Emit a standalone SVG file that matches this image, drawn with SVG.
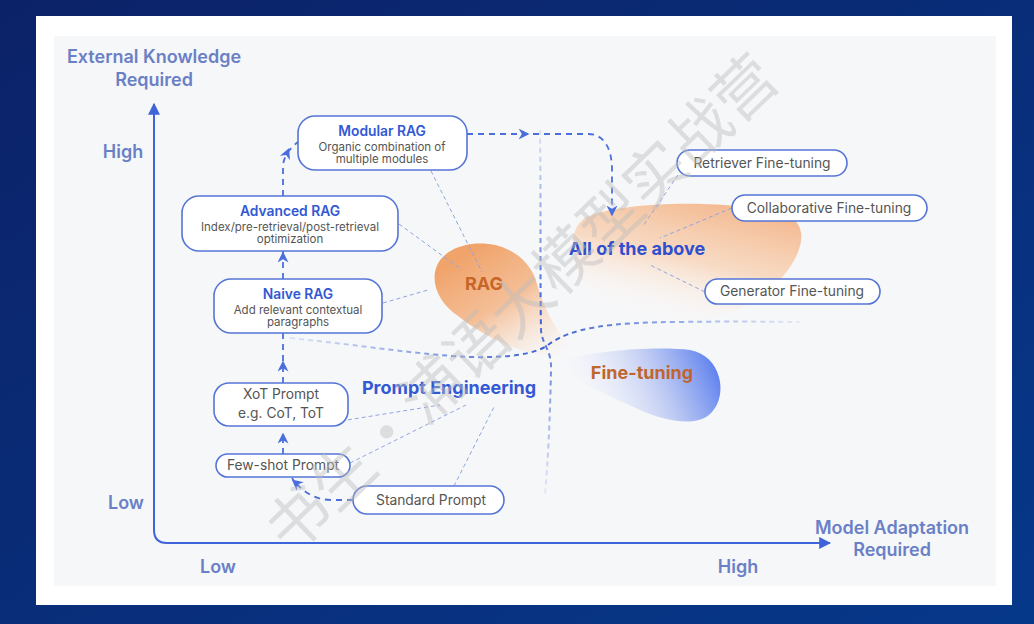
<svg xmlns="http://www.w3.org/2000/svg" width="1034" height="624" viewBox="0 0 1034 624">
<defs>
<linearGradient id="bg" x1="0" y1="0" x2="1" y2="1">
<stop offset="0" stop-color="#0c2268"/>
<stop offset="1" stop-color="#06388a"/>
</linearGradient>
<linearGradient id="ragG" x1="0.2" y1="0.1" x2="0.9" y2="1">
<stop offset="0" stop-color="#f0a36a"/>
<stop offset="0.45" stop-color="#f4b485" stop-opacity="0.85"/>
<stop offset="1" stop-color="#fde6d3" stop-opacity="0"/>
</linearGradient>
<linearGradient id="allG" x1="0.8" y1="0" x2="0.35" y2="1">
<stop offset="0" stop-color="#f3b58a"/>
<stop offset="0.5" stop-color="#f8d3b6" stop-opacity="0.8"/>
<stop offset="1" stop-color="#ffffff" stop-opacity="0"/>
</linearGradient>
<linearGradient id="ftG" x1="1" y1="0.4" x2="0" y2="0.6">
<stop offset="0" stop-color="#5f82ee"/>
<stop offset="0.4" stop-color="#b5c3f2" stop-opacity="0.8"/>
<stop offset="1" stop-color="#ffffff" stop-opacity="0"/>
</linearGradient>
<linearGradient id="vdiv" x1="0" y1="0" x2="0" y2="1">
<stop offset="0" stop-color="#4a6fdc" stop-opacity="0.15"/>
<stop offset="0.5" stop-color="#3a5fd0" stop-opacity="1"/>
<stop offset="1" stop-color="#4a6fdc" stop-opacity="0.1"/>
</linearGradient>
<linearGradient id="hdiv" x1="0" y1="0" x2="1" y2="0">
<stop offset="0" stop-color="#4a6fdc" stop-opacity="0.15"/>
<stop offset="0.5" stop-color="#3a5fd0" stop-opacity="1"/>
<stop offset="1" stop-color="#4a6fdc" stop-opacity="0.1"/>
</linearGradient>
<marker id="ah" viewBox="0 0 10 10" refX="5" refY="5" markerWidth="11" markerHeight="11" orient="auto" markerUnits="userSpaceOnUse">
<path d="M0,0 L10,5 L0,10 L3,5 Z" fill="#4a6fdc"/>
</marker>
<marker id="axh" viewBox="0 0 10 10" refX="9" refY="5" markerWidth="12" markerHeight="12" orient="auto" markerUnits="userSpaceOnUse">
<path d="M0,0 L10,5 L0,10 Z" fill="#3f63d8"/>
</marker>
</defs>
<style>
.node{fill:#ffffff;stroke:#5575d6;stroke-width:1.6}
.ttl{font-family:Inter,"Liberation Sans",sans-serif;font-size:13.8px;font-weight:600;fill:#3358d4;text-anchor:middle}
.sub{font-family:Inter,"Liberation Sans",sans-serif;font-size:11.5px;fill:#555555;text-anchor:middle}
.lbl{font-family:Inter,"Liberation Sans",sans-serif;font-size:13.8px;fill:#555555;text-anchor:middle}
.ax{font-family:Inter,"Liberation Sans",sans-serif;font-size:18px;font-weight:600;fill:#6a80c6;text-anchor:middle}
.big{font-family:Inter,"Liberation Sans",sans-serif;font-size:18px;font-weight:700;text-anchor:middle}
.dash{fill:none;stroke:#4a6fdc;stroke-width:1.8;stroke-dasharray:6 5}
.thin{fill:none;stroke:#8fa5e0;stroke-width:1;stroke-dasharray:4 3}
</style>
<rect width="1034" height="624" fill="url(#bg)"/>
<rect x="36" y="16" width="976" height="589" fill="#ffffff"/>
<rect x="54" y="36" width="942" height="550" fill="#f6f7f9"/>

<g id="blobs">
<path d="M466,245 C500,238 530,256 537,284 C545,312 556,330 575,352 C545,364 495,345 458,316 C426,294 425,254 466,245 Z" fill="url(#ragG)"/>
<path d="M585,218 C620,200 745,198 792,218 C814,234 794,272 762,296 C722,325 650,330 610,310 C575,290 560,235 585,218 Z" fill="url(#allG)"/>
<path d="M560,362 C590,350 660,346 690,350 C722,356 728,395 712,412 C700,426 672,424 640,410 C610,396 570,380 560,362 Z" fill="url(#ftG)"/>
</g>

<g id="axes">
<path d="M154,530 L154,104" fill="none" stroke="#3f63d8" stroke-width="2" marker-end="url(#axh)"/>
<path d="M154,530 Q154,543 167,543 L830,543" fill="none" stroke="#3f63d8" stroke-width="2" marker-end="url(#axh)"/>
<text class="ax" x="154" y="63">External Knowledge</text>
<text class="ax" x="154" y="86">Required</text>
<text class="ax" x="123" y="158">High</text>
<text class="ax" x="126" y="509">Low</text>
<text class="ax" x="218" y="573">Low</text>
<text class="ax" x="738" y="573">High</text>
<text class="ax" x="892" y="534">Model Adaptation</text>
<text class="ax" x="892" y="556">Required</text>
</g>

<g id="dividers">
<path d="M540,130 C541,200 540,280 541,330 C542,345 552,350 551,370 C550,420 548,460 545,495" fill="none" stroke="url(#vdiv)" stroke-width="2" stroke-dasharray="5 4"/>
<path d="M290,338 C360,345 420,355 470,357 C510,358 535,354 548,345 C570,328 610,322 680,322 C740,321 780,322 800,322" fill="none" stroke="url(#hdiv)" stroke-width="2" stroke-dasharray="5 4"/>
</g>

<g id="connectors">
<path class="dash" d="M353,500 L332,500 C315,500 302,492 292,478"/>
<path d="M302,488 L296,483" fill="none" stroke="none" marker-end="url(#ah)"/>
<path class="dash" d="M283,454 L283,432"/>
<path d="M283,446 L283,438" fill="none" stroke="none" marker-end="url(#ah)"/>
<path class="dash" d="M283,383 L283,333"/>
<path d="M283,372 L283,366" fill="none" stroke="none" marker-end="url(#ah)"/>
<path class="dash" d="M283,279 L283,251"/>
<path d="M283,264 L283,257" fill="none" stroke="none" marker-end="url(#ah)"/>
<path class="dash" d="M283,196 L283,165 C284,156 290,148 298,142"/>
<path d="M284,160 L287,153" fill="none" stroke="none" marker-end="url(#ah)"/>
<path class="dash" d="M467,134 L588,134 C605,134 612,150 612,170 L612,214"/>
<path d="M518,134 L524,134" fill="none" stroke="none" marker-end="url(#ah)"/>
<path d="M612,205 L612,211" fill="none" stroke="none" marker-end="url(#ah)"/>
<path class="thin" d="M431,171 L482,272"/>
<path class="thin" d="M399,224 L462,270"/>
<path class="thin" d="M383,303 L428,290"/>
<path class="thin" d="M341,421 L440,405"/>
<path class="thin" d="M350,463 L466,405"/>
<path class="thin" d="M454,486 L495,405"/>
<path class="thin" d="M678,175 L643,226"/>
<path class="thin" d="M732,208 L660,238"/>
<path class="thin" d="M705,292 L650,265"/>
</g>

<g id="labels">
<text class="big" x="484" y="290" fill="#c8662a">RAG</text>
<text class="big" x="637" y="255" fill="#2f4fcf" font-size="19">All of the above</text>
<text class="big" x="642" y="379" fill="#c0652e">Fine-tuning</text>
<text class="big" x="449" y="394" fill="#3358d4">Prompt Engineering</text>
</g>

<g id="modular-rag">
<rect class="node" x="298" y="116" width="169" height="54" rx="17"/>
<text class="ttl" x="382" y="136">Modular RAG</text>
<text class="sub" x="382" y="151">Organic combination of</text>
<text class="sub" x="382" y="163">multiple modules</text>
</g>
<g id="advanced-rag">
<rect class="node" x="182" y="196" width="216" height="55" rx="17"/>
<text class="ttl" x="290" y="216">Advanced RAG</text>
<text class="sub" x="290" y="231">Index/pre-retrieval/post-retrieval</text>
<text class="sub" x="290" y="243">optimization</text>
</g>
<g id="naive-rag">
<rect class="node" x="214" y="279" width="168" height="54" rx="17"/>
<text class="ttl" x="298" y="299">Naive RAG</text>
<text class="sub" x="298" y="314">Add relevant contextual</text>
<text class="sub" x="298" y="326">paragraphs</text>
</g>
<g id="xot-prompt">
<rect class="node" x="214" y="383" width="134" height="43" rx="15"/>
<text class="lbl" x="281" y="399">XoT Prompt</text>
<text class="lbl" x="281" y="418">e.g. CoT, ToT</text>
</g>
<g id="few-shot-prompt">
<rect class="node" x="216" y="454" width="134" height="23" rx="11.5"/>
<text class="lbl" x="283" y="470">Few-shot Prompt</text>
</g>
<g id="standard-prompt">
<rect class="node" x="353" y="486" width="151" height="28" rx="14"/>
<text class="lbl" x="431" y="505">Standard Prompt</text>
</g>
<g id="retriever-ft">
<rect class="node" x="677" y="150" width="170" height="26" rx="13"/>
<text class="lbl" x="762" y="168">Retriever Fine-tuning</text>
</g>
<g id="collaborative-ft">
<rect class="node" x="732" y="195" width="195" height="26" rx="13"/>
<text class="lbl" x="829" y="213">Collaborative Fine-tuning</text>
</g>
<g id="generator-ft">
<rect class="node" x="705" y="279" width="175" height="25" rx="12.5"/>
<text class="lbl" x="792" y="296">Generator Fine-tuning</text>
</g>

<text x="518" y="300" transform="rotate(-44 518 300)" text-anchor="middle" dominant-baseline="central" font-family="'Noto Sans CJK SC',sans-serif" font-size="62" fill="#bdbdbd" fill-opacity="0.45">书生·浦语大模型实战营</text>
</svg>
